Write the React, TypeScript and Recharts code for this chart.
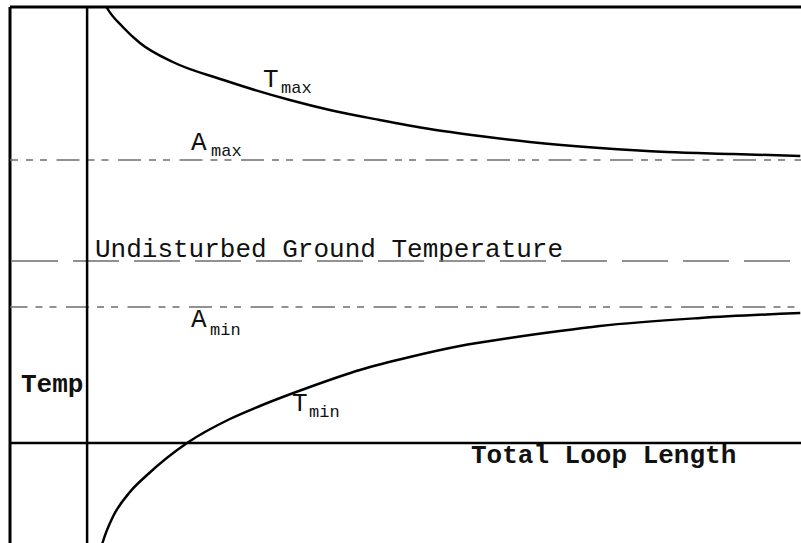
import React from 'react';
import { LineChart, Line, XAxis, YAxis, ReferenceLine } from 'recharts';

// loop length (x) and fluid temperature (y)
const tMaxLength = [2.5, 2.8, 5.0, 7.4, 12.0, 19.1, 28.4, 34.0, 41.0, 48.0, 55.0, 62.0, 71.8, 81.2, 90.5, 99.9];
const tMaxTemp = [43.9, 43.5, 41.6, 40.0, 38.1, 36.3, 34.3, 33.3, 32.3, 31.4, 30.7, 30.1, 29.5, 29.1, 28.9, 28.7];

const tMinLength = [2.0, 2.2, 3.6, 6.0, 8.4, 14.0, 20.0, 24.2, 31.2, 38.2, 45.2, 52.2, 59.2, 66.2, 71.8, 85.9, 99.9];
const tMinTemp = [-10.4, -9.9, -7.4, -4.9, -3.2, 0, 2.4, 3.7, 5.6, 7.3, 8.6, 9.7, 10.5, 11.2, 11.7, 12.5, 13.0];

const aMax = 28.3;
const groundTemp = 18.2;
const aMin = 13.6;

const xDomain = [-10.8, 100];
const yDomain = [-10, 43.6];

const tMaxData = tMaxLength.map((x, i) => ({ x, y: tMaxTemp[i] }));
const tMinData = tMinLength.map((x, i) => ({ x, y: tMinTemp[i] }));

const font = '"Liberation Mono", "Courier New", monospace';
const ink = '#111';
const dashGray = '#6e6e6e';

const Sub = ({ x, y, main, sub, subX, subY }: any) => (
  <text fontFamily={font} fill={ink}>
    <tspan x={x} y={y} fontSize={26}>{main}</tspan>
    <tspan x={subX} y={subY} fontSize={17}>{sub}</tspan>
  </text>
);

export default function App() {
  return (
    <div style={{ position: 'absolute', left: 0, top: 0, background: '#fff' }}>
      <LineChart width={801} height={543} margin={{ top: 7, right: 0, bottom: 0, left: 10 }}>
        <XAxis type="number" dataKey="x" domain={xDomain} allowDataOverflow hide />
        <YAxis type="number" dataKey="y" domain={yDomain} allowDataOverflow hide />

        {/* frame */}
        <ReferenceLine x={xDomain[0]} stroke="#000" strokeWidth={3} />
        <ReferenceLine y={yDomain[1]} stroke="#000" strokeWidth={3} />

        {/* reference temperatures */}
        <ReferenceLine y={aMax} stroke={dashGray} strokeWidth={1.6} strokeDasharray="23 8 7 7 7 9.5" strokeDashoffset={15} />
        <ReferenceLine y={groundTemp} stroke={dashGray} strokeWidth={1.6} strokeDasharray="46 15" strokeDashoffset={59} />
        <ReferenceLine y={aMin} stroke={dashGray} strokeWidth={1.6} strokeDasharray="23 8 7 7 7 9.5" strokeDashoffset={5.5} />

        {/* axes */}
        <ReferenceLine x={0} stroke="#000" strokeWidth={2.5} />
        <ReferenceLine y={0} stroke="#000" strokeWidth={2.5} />

        <Line data={tMaxData} dataKey="y" type="monotone" stroke="#000" strokeWidth={2.5} dot={false} isAnimationActive={false} />
        <Line data={tMinData} dataKey="y" type="monotone" stroke="#000" strokeWidth={2.5} dot={false} isAnimationActive={false} />

        <text x={95} y={257} fontFamily={font} fontSize={26} fill={ink}>Undisturbed Ground Temperature</text>
        <text x={21} y={392} fontFamily={font} fontSize={26} fontWeight="bold" fill={ink}>Temp</text>
        <text x={471} y={463} fontFamily={font} fontSize={26} fontWeight="bold" fill={ink}>Total Loop Length</text>

        <Sub x={263} y={87} main="T" sub="max" subX={281} subY={93} />
        <Sub x={191} y={150} main="A" sub="max" subX={211} subY={156} />
        <Sub x={191} y={327} main="A" sub="min" subX={210} subY={335} />
        <Sub x={292} y={411} main="T" sub="min" subX={309} subY={417} />
      </LineChart>
    </div>
  );
}
